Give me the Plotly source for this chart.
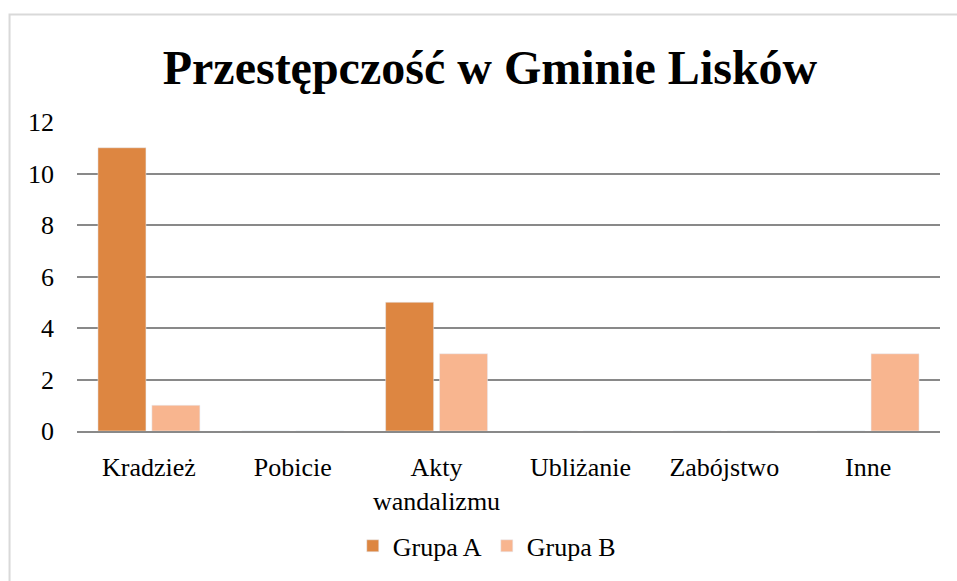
import plotly.graph_objects as go

categories = ["Kradzież", "Pobicie", "Akty<br>wandalizmu", "Ubliżanie", "Zabójstwo", "Inne"]
grupa_a = [11, 0, 5, 0, 0, 0]
grupa_b = [1, 0, 3, 0, 0, 3]

W, H = 957, 581
L, R, T, B = 77, 16.5, 122, 147
pw, ph = W - L - R, H - T - B

fig = go.Figure()
fig.add_trace(go.Bar(x=categories, y=grupa_a, name="Grupa A", marker_color="#DD8641"))
fig.add_trace(go.Bar(x=categories, y=grupa_b, name="Grupa B", marker_color="#F8B58F"))

fig.update_layout(
    width=W, height=H,
    margin=dict(l=L, r=R, t=T, b=B),
    paper_bgcolor="white", plot_bgcolor="white",
    font=dict(family="Liberation Serif", size=26, color="black"),
    title=dict(text="<b>Przestępczość w Gminie Lisków</b>", font=dict(size=48),
               x=490 / W, xref="container", xanchor="center",
               y=1 - 67 / H, yref="container", yanchor="middle"),
    barmode="group", bargap=0.25, bargroupgap=0.11,
    legend=dict(orientation="h", x=(487 - L) / pw, xanchor="center",
                y=(434 - 550) / ph, yanchor="middle", font=dict(size=26)),
    shapes=[dict(type="rect", xref="paper", yref="paper",
                 x0=(9.5 - L) / pw, x1=(W + 20 - L) / pw,
                 y0=(434 - H - 20) / ph, y1=(434 - 13.5) / ph,
                 line=dict(color="#d9d9d9", width=2), layer="below")],
)
fig.update_yaxes(range=[0, 12], dtick=2, showgrid=True, gridcolor="#898989", gridwidth=2,
                 zeroline=False, showline=False, ticks="", ticklabelstandoff=22)
fig.update_xaxes(showline=True, linecolor="#898989", linewidth=2, ticks="",
                 ticklabelstandoff=12)

# drop the default 8px body margin so the figure fills the window exactly
fig.write_html("out.html", config={"displayModeBar": False},
               post_script="document.body.style.margin='0';")
